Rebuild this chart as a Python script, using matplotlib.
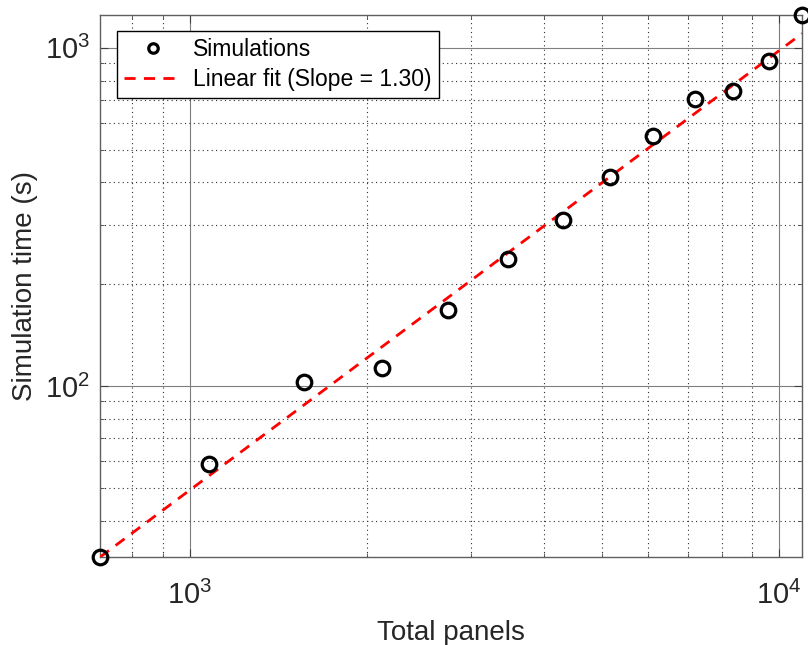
import numpy as np
import matplotlib
matplotlib.use('Agg')
import matplotlib.pyplot as plt
from matplotlib.ticker import LogLocator, NullFormatter

plt.rcParams['font.family'] = ['Liberation Sans', 'DejaVu Sans']
plt.rcParams['mathtext.fontset'] = 'custom'
plt.rcParams['mathtext.rm'] = 'Liberation Sans'

# simulation runs: total panel count vs wall time (s)
panels = [705, 1078, 1562, 2121, 2745, 3476, 4305, 5171, 6124, 7204, 8356, 9630, 10940]
sim_time = [31.2, 58.9, 102.8, 113.0, 167.5, 236.6, 309.0, 413.5, 548.0, 705.0, 745.0, 912.0, 1250.0]

# power law fit in log-log space
slope = 1.30
intercept = -2.2086

x = np.array(panels, dtype=float)
y = np.array(sim_time, dtype=float)
x_fit = np.logspace(np.log10(x.min()), np.log10(x.max()), 50)
y_fit = 10 ** (intercept + slope * np.log10(x_fit))

fig = plt.figure(figsize=(8.08, 6.45), dpi=100)
ax = fig.add_axes([0.1238, 0.1364, 0.8688, 0.8403])

ax.plot(x, y, 'o', mfc='none', mec='black', mew=2.3, ms=10.5, clip_on=False,
        zorder=4, label='Simulations')
ax.plot(x_fit, y_fit, '--', color='red', lw=2.0, dashes=(4, 3), zorder=3,
        label='Linear fit (Slope = %.2f)' % slope)

ax.set_xscale('log')
ax.set_yscale('log')
ax.set_xlim(x.min(), x.max())
ax.set_ylim(y.min(), y.max())

ax.xaxis.set_minor_locator(LogLocator(base=10, subs=np.arange(2, 10)))
ax.yaxis.set_minor_locator(LogLocator(base=10, subs=np.arange(2, 10)))
ax.xaxis.set_minor_formatter(NullFormatter())
ax.yaxis.set_minor_formatter(NullFormatter())

ax.grid(True, which='major', color='#7f7f7f', linestyle='-', lw=0.8)
ax.grid(True, which='minor', color='#303030', linestyle=(0, (1, 3)), lw=0.8)
ax.set_axisbelow(True)

ax.tick_params(which='both', direction='in', top=True, right=True, colors='#404040')
ax.tick_params(which='major', length=6, labelsize=21, labelcolor='#262626')
ax.tick_params(axis='x', which='major', pad=17)
ax.tick_params(axis='y', which='major', pad=7)
ax.tick_params(which='minor', length=3)
for s in ax.spines.values():
    s.set_color('#606060')
    s.set_linewidth(1.0)

ax.set_xlabel('Total panels', fontsize=20, color='#262626', labelpad=7)
ax.set_ylabel('Simulation time (s)', fontsize=20, color='#262626', labelpad=5)

leg = ax.legend(loc='upper left', bbox_to_anchor=(0.024, 0.9705), borderaxespad=0,
                fontsize=16.5, frameon=True, fancybox=False, framealpha=1,
                edgecolor='black', handlelength=2.55, handletextpad=0.48,
                borderpad=0.3, labelspacing=0.3, markerscale=0.65)
leg.get_frame().set_linewidth(1.0)

fig.savefig('out.png', dpi=100)
